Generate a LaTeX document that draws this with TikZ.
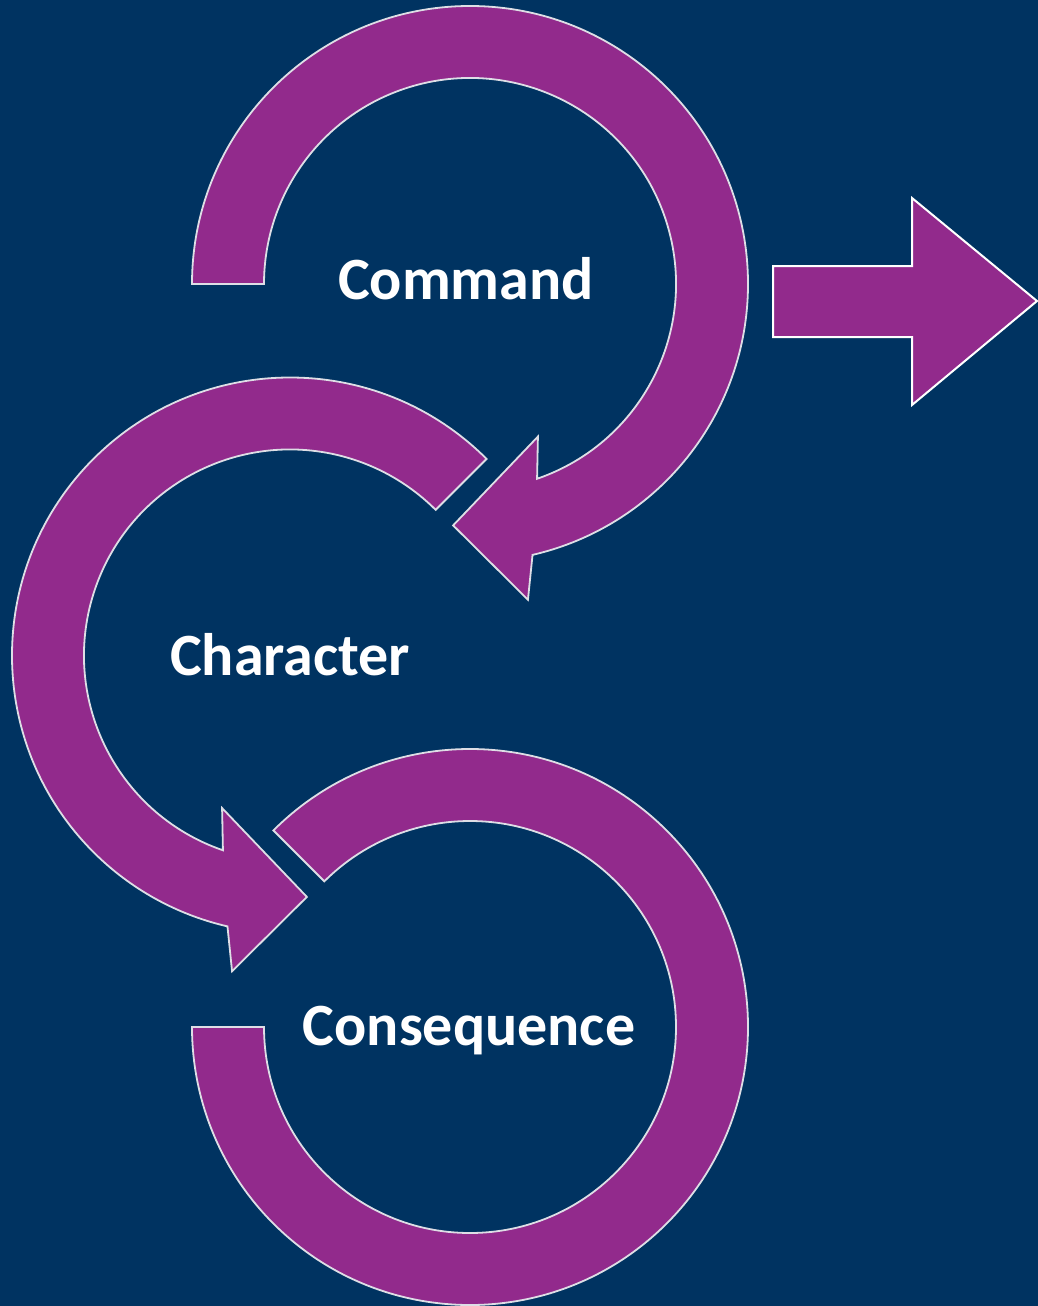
\documentclass[tikz,border=0pt]{standalone}
\usepackage{fontspec}
\setmainfont{Carlito}
\definecolor{bgnavy}{RGB}{0,51,97}
\definecolor{ringpurple}{RGB}{146,42,140}
\definecolor{rimwhite}{RGB}{222,222,230}

\begin{document}
\begin{tikzpicture}[x=1pt,y=-1pt,line width=2pt]

    \tikzset{
      band/.style={fill=ringpurple,draw=rimwhite,line width=1.8pt,line join=miter},
      label/.style={text=white,font=\fontsize{60}{72}\selectfont\bfseries,anchor=base,inner sep=0pt}
    }

    \def\headring#1{
      \filldraw[band] (#1:278) arc[start angle=#1, end angle=437, radius=278]
        -- (439.6:321) -- (454:242) -- (426:167) -- (431:206)
        arc[start angle=431, end angle=#1, radius=206] -- cycle;
    }

    \def\plainring#1#2{
      \filldraw[band] (#1:278) arc[start angle=#1, end angle=#2, radius=278]
        -- (#2:206) arc[start angle=#2, end angle=#1, radius=206] -- cycle;
    }

    \fill[bgnavy] (0,0) rectangle (1038,1306);
    \useasboundingbox (0,0) rectangle (1038,1306);

    \coordinate (cmd) at (470,284);
    \coordinate (chr) at (290,655.5);
    \coordinate (csq) at (470,1027);

    \begin{scope}[ shift = {(cmd)} ]              \headring{180}        \end{scope}
    \begin{scope}[ shift = {(chr)} , xscale = -1 ] \headring{225}        \end{scope}
    \begin{scope}[ shift = {(csq)} ]              \plainring{225}{540}  \end{scope}

    \filldraw[fill=ringpurple,draw=white,line width=2pt,line join=miter]
      (773,266) -- (912,266) -- (912,198) -- (1037,301) -- (912,405) -- (912,337) -- (773,337) -- cycle;

    \node[label] (command)     at (466,299)  {Command};
    \node[label] (character)   at (290,675)  {Character};
    \node[label] (consequence) at (469,1045) {Consequence};

\end{tikzpicture}
\end{document}
